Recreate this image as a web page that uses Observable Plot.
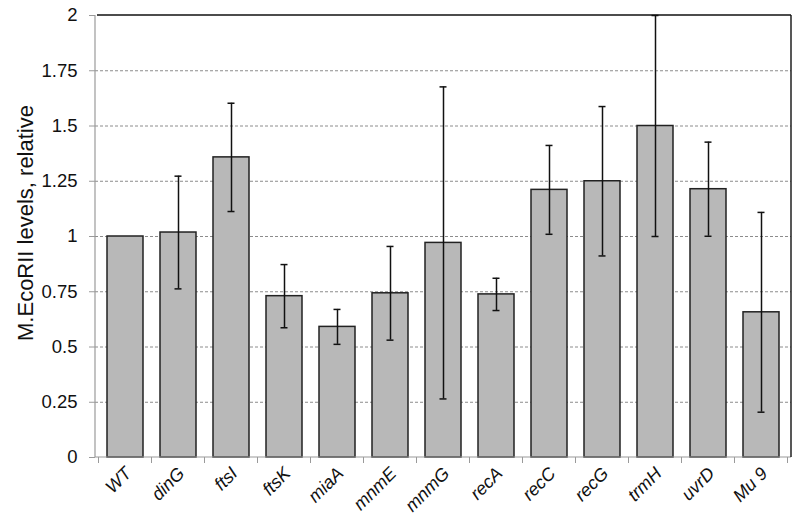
<!DOCTYPE html>
<html>
<head>
<meta charset="utf-8">
<script src="https://cdn.jsdelivr.net/npm/d3@7"></script>
<script src="https://cdn.jsdelivr.net/npm/@observablehq/plot@0.6"></script>
<style>
  html, body { margin: 0; padding: 0; background: #fff; }
  #chart svg { font-family: "Liberation Sans", Arial, sans-serif; display: block; }
</style>
</head>
<body>
<div id="chart"></div>
<script>
const categories = ["WT", "dinG", "ftsI", "ftsK", "miaA", "mnmE", "mnmG", "recA", "recC", "recG", "trmH", "uvrD", "Mu 9"];
const means = [1.0, 1.018, 1.358, 0.730, 0.591, 0.743, 0.971, 0.738, 1.211, 1.250, 1.500, 1.214, 0.657];
const errors = [0, 0.255, 0.245, 0.143, 0.079, 0.212, 0.706, 0.073, 0.201, 0.338, 0.500, 0.213, 0.452];
const yTicks = [0, 0.25, 0.5, 0.75, 1, 1.25, 1.5, 1.75, 2];
const gridTicks = [0.25, 0.5, 0.75, 1, 1.25, 1.5, 1.75];
const yTitle = "M.EcoRII levels, relative";

const data = categories.map((c, i) => ({
  name: c, value: means[i], lo: means[i] - errors[i], hi: Math.min(2, means[i] + errors[i]), err: errors[i]
}));
const withErr = data.filter(d => d.err > 0);

// frame: black top and right, gray left and bottom with band-boundary ticks, and the y title
function frameMark(index, scales, values, dims) {
  const g = d3.create("svg:g");
  const l = dims.marginLeft, r = dims.width - dims.marginRight;
  const t = dims.marginTop, b = dims.height - dims.marginBottom;
  const x = scales.x;
  const step = x(categories[1]) - x(categories[0]);
  const bw = scales.scales && scales.scales.x && scales.scales.x.bandwidth != null ? scales.scales.x.bandwidth : 0;
  const bounds = categories.map(c => x(c) + bw / 2 - step / 2);
  bounds.push(x(categories[categories.length - 1]) + bw / 2 + step / 2);
  g.selectAll("line.xt").data(bounds).join("line")
    .attr("x1", d => d).attr("x2", d => d).attr("y1", b).attr("y2", b + 6)
    .attr("stroke", "#9a9a9a").attr("stroke-width", 1);
  g.append("line").attr("x1", l).attr("x2", r).attr("y1", b).attr("y2", b)
    .attr("stroke", "#9a9a9a").attr("stroke-width", 1.2);
  g.append("line").attr("x1", l).attr("x2", l).attr("y1", t).attr("y2", b)
    .attr("stroke", "#9a9a9a").attr("stroke-width", 1.2);
  g.append("line").attr("x1", l + 2).attr("x2", r).attr("y1", t).attr("y2", t)
    .attr("stroke", "#111").attr("stroke-width", 1.4);
  g.append("line").attr("x1", r).attr("x2", r).attr("y1", t).attr("y2", b)
    .attr("stroke", "#111").attr("stroke-width", 1.4);
  const cy = (t + b) / 2 - 13;
  g.append("text")
    .attr("transform", `translate(33,${cy}) rotate(-90)`)
    .attr("text-anchor", "middle")
    .attr("font-size", 22)
    .attr("fill", "#111")
    .text(yTitle);
  return g.node();
}

const chart = Plot.plot({
  width: 800,
  height: 527,
  marginLeft: 95,
  marginRight: 9,
  marginTop: 15,
  marginBottom: 70,
  style: { fontFamily: "Liberation Sans, Arial, sans-serif", background: "#fff" },
  x: { domain: categories, paddingInner: 0.33, paddingOuter: 0.165, axis: null },
  y: { domain: [0, 2], axis: null },
  marks: [
    Plot.ruleY(gridTicks, { stroke: "#8c8c8c", strokeWidth: 1, strokeDasharray: "3,2" }),
    Plot.barY(data, { x: "name", y: "value", fill: "#b8b8b8", stroke: "#222", strokeWidth: 1.5 }),
    Plot.ruleX(withErr, { x: "name", y1: "lo", y2: "hi", stroke: "#111", strokeWidth: 1.5 }),
    Plot.tickY(withErr, { x: "name", y: "lo", stroke: "#111", strokeWidth: 1.5, insetLeft: 14.5, insetRight: 14.5 }),
    Plot.tickY(withErr, { x: "name", y: "hi", stroke: "#111", strokeWidth: 1.5, insetLeft: 14.5, insetRight: 14.5 }),
    frameMark,
    Plot.axisY({
      ticks: yTicks, tickFormat: d => String(d), tickSize: 6, tickPadding: 12,
      stroke: "#9a9a9a", fill: "#111", fontSize: 18.5, label: null
    }),
    Plot.axisX({
      tickSize: 0, tickPadding: 13, dx: 3, tickRotate: -45, fontSize: 18, fontStyle: "italic",
      fill: "#111", label: null, textAnchor: "end"
    })
  ]
});
document.getElementById("chart").appendChild(chart);
</script>
<style>
  #chart svg [aria-label="x-axis tick label"] text { font-style: italic; }
</style>
</body>
</html>
